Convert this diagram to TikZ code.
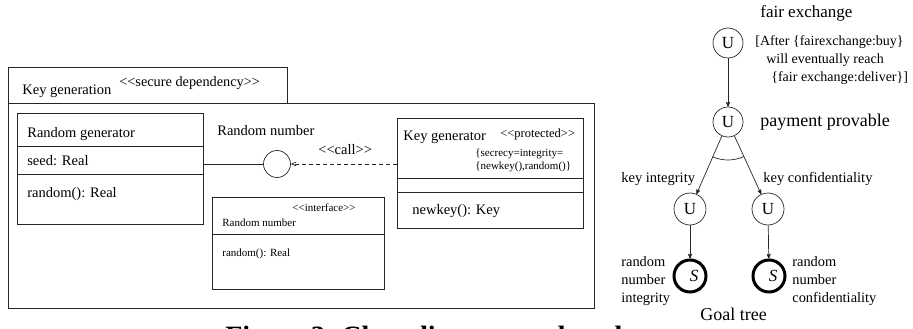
\documentclass[tikz,border=0pt]{standalone}
\usepackage{fontspec}
\setmainfont{Liberation Serif}
\usetikzlibrary{arrows}

\newcommand{\fs}[1]{\fontsize{#1}{#1}\selectfont}

\begin{document}
\begin{tikzpicture}[x=1pt,y=-1pt,>=stealth',line width=0.7pt,
    box/.style={draw=black!85,rectangle,anchor=north west,inner sep=0pt},
    txt/.style={inner sep=0pt,anchor=base west,font=\fs{14.5}},
    stereo/.style={inner sep=0pt,anchor=base west,font=\fs{12.5}},
    tiny/.style={inner sep=0pt,anchor=base west,font=\fs{11}},
    goal/.style={circle,draw=black!85,minimum size=30pt,inner sep=0pt,font=\fs{17}},
    leaf/.style={circle,draw=black,line width=3pt,minimum size=32pt,inner sep=0pt,font=\fs{17}\itshape},
    glbl/.style={inner sep=0pt,anchor=base west,font=\fs{14.5}}]
  \useasboundingbox (0,0) rectangle (913,329);
  \clip (0,0) rectangle (913,329);

  % package
  \node[box,minimum width=279pt,minimum height=36pt] (tab) at (8,67) {};
  \node[box,minimum width=586pt,minimum height=205pt] (pkg) at (8,103) {};
  \node[txt] (pkgname) at (22,95) {Key generation};
  \node[stereo,font=\fs{14.3}] (pkgst) at (119,87) {<{}<secure dependency>{}>};

  % random generator
  \node[box,minimum width=186pt,minimum height=111pt] (rg) at (17,113) {};
  \foreach \d in {33,61}
    \draw[black!85] ([yshift=-\d pt]rg.north west) -- ([yshift=-\d pt]rg.north east);
  \node[txt] (rgname) at (27,137) {Random generator};
  \node[txt] (rgattr) at (27,165) {seed: Real};
  \node[txt] (rgop) at (27,197) {random(): Real};

  % key generator
  \node[box,minimum width=186pt,minimum height=110pt] (kg) at (397,118) {};
  \foreach \d in {60,74}
    \draw[black!85] ([yshift=-\d pt]kg.north west) -- ([yshift=-\d pt]kg.north east);
  \node[txt] (kgname) at (403,140) {Key generator};
  \node[stereo] (kgst) at (500,137) {<{}<protected>{}>};
  \node[tiny] (kgtag1) at (475,156) {\{secrecy=integrity=};
  \node[tiny] (kgtag2) at (475,169) {\{newkey(),random()\}};
  \node[txt] (kgop) at (412,214) {newkey(): Key};

  % interface
  \node[box,minimum width=172pt,minimum height=92pt] (rn) at (212,197) {};
  \draw[black!85] ([yshift=-37pt]rn.north west) -- ([yshift=-37pt]rn.north east);
  \node[tiny] (rnst) at (292,211) {<{}<interface>{}>};
  \node[tiny] (rnname) at (222,226) {Random number};
  \node[tiny] (rnop) at (222,256) {random(): Real};

  % ball and call
  \node[circle,draw=black!85,minimum size=27pt,inner sep=0pt] (ball) at (277,164) {};
  \node[txt] (balllbl) at (217,135) {Random number};
  \node[txt] (calllbl) at (318,154) {<{}<call>{}>};
  \draw[black!85] (ball -| rg.east) -- (ball);
  \draw[black!85,dash pattern=on 4pt off 3pt,->,>=angle 45] (ball -| kg.west) -- (ball);

  % goal tree
  \node[goal] (u1) at (728,43) {U};
  \node[goal] (u2) at (728,122) {U};
  \node[goal,minimum size=32pt] (u3) at (690,209) {U};
  \node[goal,minimum size=32pt] (u4) at (768,209) {U};
  \node[leaf] (s1) at (690,276) {\hspace*{8pt}S};
  \node[leaf] (s2) at (769,276) {\hspace*{8pt}S};

  \path[->,draw=black!85]
    (u1) edge (u2)
    (u2) edge (u3)
    (u2) edge (u4)
    (u3) edge (s1)
    (u4) edge (s2);
  \draw[black!85] (u2.center) ++(246:38pt) arc[start angle=246,end angle=295,radius=38pt];

  \node[glbl,font=\fs{17}] (g1) at (760,18) {fair exchange};
  \node[inner sep=0pt,anchor=north west,align=left,font=\fontsize{14}{18}\selectfont] (g1c) at (755,35)
    {[After \{fairexchange:buy\}\\\hspace*{11pt}will eventually reach\\\hspace*{16pt}\{fair exchange:deliver\}]};
  \node[glbl,font=\fs{18}] (g2) at (760,126) {payment provable};
  \node[glbl] (g3) at (621,182) {key integrity};
  \node[glbl] (g4) at (763,182) {key confidentiality};
  \node[inner sep=0pt,anchor=north west,align=left,font=\fontsize{14.4}{18}\selectfont] (g5) at (621,256)
    {random\\number\\integrity};
  \node[inner sep=0pt,anchor=north west,align=left,font=\fontsize{14.4}{18}\selectfont] (g6) at (792,256)
    {random\\number\\confidentiality};
  \node[glbl,font=\fs{18}] (gt) at (700,320) {Goal tree};

  % caption
  \node[inner sep=0pt,anchor=base west,font=\fs{28}\bfseries] (caption) at (225,345)
    {Figure 3. Class diagram and goal tree};
\end{tikzpicture}
\end{document}
